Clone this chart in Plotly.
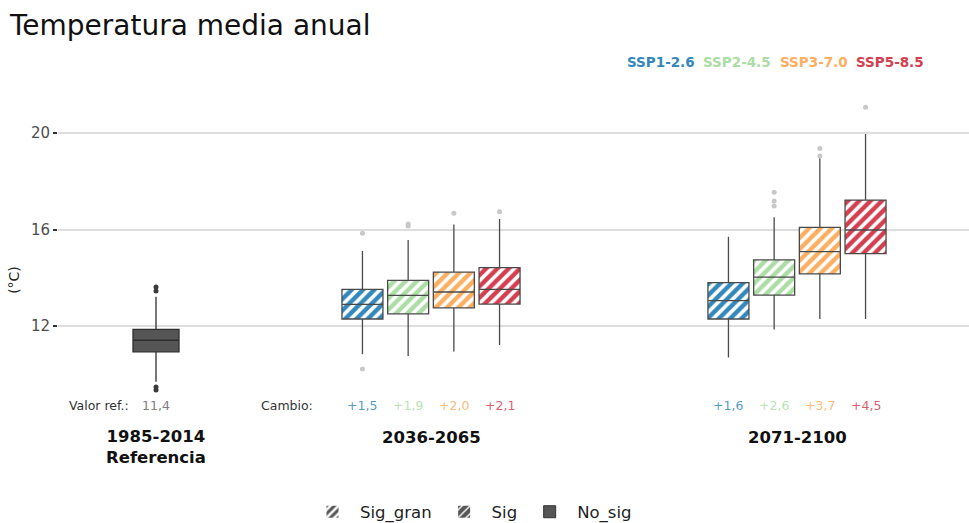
import plotly.graph_objects as go

TITLE = "Temperatura media anual"
Y_TITLE = "(°C)"
SCENARIOS = ["SSP1-2.6", "SSP2-4.5", "SSP3-7.0", "SSP5-8.5"]
COLORS = ["#3288bd", "#abdda4", "#fdae61", "#d53e4f"]
PERIODS = ["2036-2065", "2071-2100"]
REF_LABEL = ["1985-2014", "Referencia"]
Y_TICKS = [12, 16, 20]

# reference period box statistics
ref_q1 = 10.93
ref_med = 11.41
ref_q3 = 11.86
ref_lo = 9.69
ref_hi = 13.21
ref_out = [13.45, 13.62, 9.47, 9.35]
ref_value = "11,4"

# future periods (rows) x scenarios (columns)
q1 = [[12.29, 12.50, 12.75, 12.91], [12.29, 13.28, 14.16, 15.00]]
med = [[12.90, 13.27, 13.41, 13.52], [13.05, 14.03, 15.08, 15.98]]
q3 = [[13.52, 13.89, 14.23, 14.42], [13.80, 14.74, 16.09, 17.22]]
lo = [[10.83, 10.76, 10.94, 11.21], [10.69, 11.86, 12.29, 12.29]]
hi = [[15.11, 15.56, 16.21, 16.44], [15.70, 16.51, 18.95, 19.96]]
outliers = [
    [[15.84, 10.22], [16.23, 16.15], [16.67], [16.74]],
    [[], [17.54, 17.18, 16.97], [19.36, 19.05], [21.07]],
]
changes = [["+1,5", "+1,9", "+2,0", "+2,1"], ["+1,6", "+2,6", "+3,7", "+4,5"]]

LEGEND_NAMES = ["Sig_gran", "Sig", "No_sig"]

# ---------------- layout geometry ----------------
W, H = 969, 523
ML, MR, MT, MB = 58, 0, 80, 43
PLOT_TOP, PLOT_BOT = MT, H - MB
REF_X = 156
GROUP_X = [431, 797]
STEP = 45.7
BOX_W = 41
PX_PER_UNIT = 24.125
Y12_PX = 326
FONT = "DejaVu Sans"


def pix_to_val(p):
    return 12 + (Y12_PX - p) / PX_PER_UNIT


def py(p):  # pixel y -> paper y
    return (PLOT_BOT - p) / (PLOT_BOT - PLOT_TOP)


def px(p):  # pixel x -> paper x
    return (p - ML) / (W - ML - MR)


def hex_rgba(h, a):
    h = h.lstrip("#")
    return "rgba(%d,%d,%d,%.2f)" % (int(h[0:2], 16), int(h[2:4], 16), int(h[4:6], 16), a)


fig = go.Figure()

# hatched fills (bars) for scenarios
for gi in range(len(PERIODS)):
    for si in range(len(SCENARIOS)):
        xpos = GROUP_X[gi] + (si - 1.5) * STEP
        fig.add_trace(go.Bar(
            x=[xpos], y=[q3[gi][si] - q1[gi][si]], base=[q1[gi][si]], width=BOX_W,
            marker=dict(color=COLORS[si], line=dict(width=0),
                        pattern=dict(shape="/", fgcolor="white", bgcolor=COLORS[si],
                                     size=8, solidity=0.45, fillmode="replace")),
            showlegend=False, hoverinfo="skip"))

# legend dummies
fig.add_trace(go.Bar(x=[None], y=[None], name=LEGEND_NAMES[0],
                     marker=dict(color="#555555", line=dict(width=0),
                                 pattern=dict(shape="/", fgcolor="white", bgcolor="#555555",
                                              size=7, solidity=0.45, fillmode="replace"))))
fig.add_trace(go.Bar(x=[None], y=[None], name=LEGEND_NAMES[1],
                     marker=dict(color="#555555", line=dict(width=0),
                                 pattern=dict(shape="/", fgcolor="white", bgcolor="#555555",
                                              size=7, solidity=0.25, fillmode="replace"))))
fig.add_trace(go.Bar(x=[None], y=[None], name=LEGEND_NAMES[2],
                     marker=dict(color="#555555", line=dict(color="#333333", width=1))))

# box outlines + whiskers
for gi in range(len(PERIODS)):
    for si in range(len(SCENARIOS)):
        xpos = GROUP_X[gi] + (si - 1.5) * STEP
        fig.add_trace(go.Box(
            x=[xpos], q1=[q1[gi][si]], median=[med[gi][si]], q3=[q3[gi][si]],
            lowerfence=[lo[gi][si]], upperfence=[hi[gi][si]], width=BOX_W,
            fillcolor="rgba(0,0,0,0)", line=dict(color="#4a4a4a", width=1.3),
            whiskerwidth=0, boxpoints=False, showlegend=False, hoverinfo="skip"))
        if outliers[gi][si]:
            fig.add_trace(go.Scatter(
                x=[xpos] * len(outliers[gi][si]), y=outliers[gi][si], mode="markers",
                marker=dict(color="#c8c8c8", size=5), showlegend=False, hoverinfo="skip"))

# reference box
fig.add_trace(go.Box(
    x=[REF_X], q1=[ref_q1], median=[ref_med], q3=[ref_q3],
    lowerfence=[ref_lo], upperfence=[ref_hi], width=BOX_W + 5,
    fillcolor="#555555", line=dict(color="#2e2e2e", width=1.3),
    whiskerwidth=0, boxpoints=False, showlegend=False, hoverinfo="skip"))
fig.add_trace(go.Scatter(
    x=[REF_X] * len(ref_out), y=ref_out, mode="markers",
    marker=dict(color="#3a3a3a", size=5), showlegend=False, hoverinfo="skip"))

annotations = []
# top scenario legend
for si, (name, col) in enumerate(zip(SCENARIOS, COLORS)):
    cx = 661 + si * 76.3
    annotations.append(dict(x=px(cx), y=py(62), xref="paper", yref="paper", xanchor="center",
                            yanchor="middle", text="<b>%s</b>" % name, showarrow=False,
                            font=dict(family=FONT, size=13.5, color=col)))
# value row
ROW_Y = py(405)
SMALL = 12.5
annotations.append(dict(x=99, y=ROW_Y, xref="x", yref="paper", text="Valor ref.:", showarrow=False,
                        xanchor="center", yanchor="middle",
                        font=dict(family=FONT, size=SMALL, color="#333333")))
annotations.append(dict(x=REF_X, y=ROW_Y, xref="x", yref="paper", text=ref_value, showarrow=False,
                        xanchor="center", yanchor="middle",
                        font=dict(family=FONT, size=SMALL, color="#808080")))
annotations.append(dict(x=287, y=ROW_Y, xref="x", yref="paper", text="Cambio:", showarrow=False,
                        xanchor="center", yanchor="middle",
                        font=dict(family=FONT, size=SMALL, color="#333333")))
for gi in range(len(PERIODS)):
    for si in range(len(SCENARIOS)):
        xpos = GROUP_X[gi] + (si - 1.5) * STEP
        annotations.append(dict(x=xpos, y=ROW_Y, xref="x", yref="paper", text=changes[gi][si],
                                showarrow=False, xanchor="center", yanchor="middle",
                                font=dict(family=FONT, size=SMALL, color=hex_rgba(COLORS[si], 0.85))))
# period labels
BIG = 16.5
annotations.append(dict(x=REF_X, y=py(426), xref="x", yref="paper",
                        text="<b>%s</b>" % "<br>".join(REF_LABEL), showarrow=False,
                        xanchor="center", yanchor="top", borderpad=0,
                        font=dict(family=FONT, size=BIG, color="#111111")))
for gi, p in enumerate(PERIODS):
    annotations.append(dict(x=GROUP_X[gi], y=py(437), xref="x", yref="paper", text="<b>%s</b>" % p,
                            showarrow=False, xanchor="center", yanchor="middle",
                            font=dict(family=FONT, size=BIG, color="#111111")))

fig.update_layout(
    width=W, height=H,
    margin=dict(l=ML, r=MR, t=MT, b=MB, autoexpand=False),
    paper_bgcolor="white", plot_bgcolor="white",
    barmode="overlay",
    title=dict(text=TITLE, x=10 / W, xanchor="left", y=1 - 25 / H, yanchor="middle",
               font=dict(family=FONT, size=28, color="#111111")),
    font=dict(family=FONT),
    xaxis=dict(range=[ML, W - MR], showgrid=False, zeroline=False, showticklabels=False,
               ticks="", showline=False, fixedrange=True),
    yaxis=dict(range=[pix_to_val(PLOT_BOT), pix_to_val(PLOT_TOP)], tickvals=Y_TICKS,
               showgrid=True, gridcolor="#dedede", gridwidth=1.6, zeroline=False,
               ticks="outside", ticklen=4, tickcolor="#333333", tickwidth=1.5,
               tickfont=dict(family=FONT, size=15, color="#4d4d4d"),
               title=dict(text=Y_TITLE, font=dict(family=FONT, size=14, color="#222222"), standoff=8)),
    legend=dict(orientation="h", xref="container", yref="container", x=471 / W, xanchor="center",
                y=(H - 512) / H, yanchor="middle", font=dict(family=FONT, size=16.5, color="#222222"),
                itemwidth=45, bgcolor="rgba(0,0,0,0)"),
    annotations=annotations,
    showlegend=True,
)

fig.write_html("out.html")
